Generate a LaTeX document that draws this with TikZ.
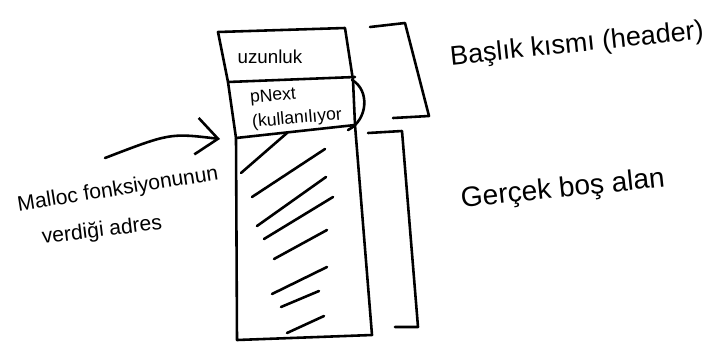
\documentclass[tikz,border=0pt]{standalone}
\usepackage{fontspec}
\setmainfont{Liberation Sans}
\usetikzlibrary{positioning,arrows.meta}

\begin{document}
\begin{tikzpicture}[x=0.3mm, y=-0.3mm, line width=2.2pt, line cap=round, line join=round,
  hand/.style={inner sep=0pt, font=\fontsize{#1}{#1}\selectfont}]
  \useasboundingbox (0,0) rectangle (717,354);
  % block: header cells and body
  \draw (218,32) -- (228,82) -- (236,138) -- (237,340) -- (372,335) -- (355,125) -- (353,80) -- (345,28) -- cycle;
  \draw (228,82) -- (355,77);
  \draw (236,138) -- (355,125);
  \foreach \xa/\ya/\xb/\yb in {241/173/287/133, 252/197/325/149, 257/226/326/177, 264/239/333/197,
                               274/259/327/230, 272/294/327/267, 281/307/319/291, 287/333/324/316}{
    \draw (\xa,\ya) -- (\xb,\yb);
  }
  \node[hand=16] (uzunlukText) at (270,57) {uzunluk};
  \node[inner sep=0pt, font=\fontsize{15}{21}\selectfont, rotate=5, align=left] (pnextText) at (296,107) {pNext\\(kullanılıyor};
  \draw (352,80) .. controls (370,90) and (368,120) .. (348,130);
  % brackets
  \draw (370,27) -- (405,23) -- (429,116) -- (393,118);
  \draw (368,133) -- (402,131) -- (418,327) -- (395,327);
  \node[hand=23, rotate=6] (headerText) at (577,45) {Başlık kısmı (header)};
  \node[hand=24, rotate=6] (bosText) at (563,190) {Gerçek boş alan};
  % malloc address
  \node[hand=18, rotate=9] (mallocText) at (118,190) {Malloc fonksiyonunun};
  \node[hand=18, rotate=7] (adresText) at (102,231) {verdiği adres};
  \coordinate (arrowTail) at (105,158);
  \coordinate (addr) at (220,139);
  \draw[-{Straight Barb[length=6.5mm, width=11mm]}] (arrowTail) .. controls (170,133) .. (addr);
\end{tikzpicture}
\end{document}
